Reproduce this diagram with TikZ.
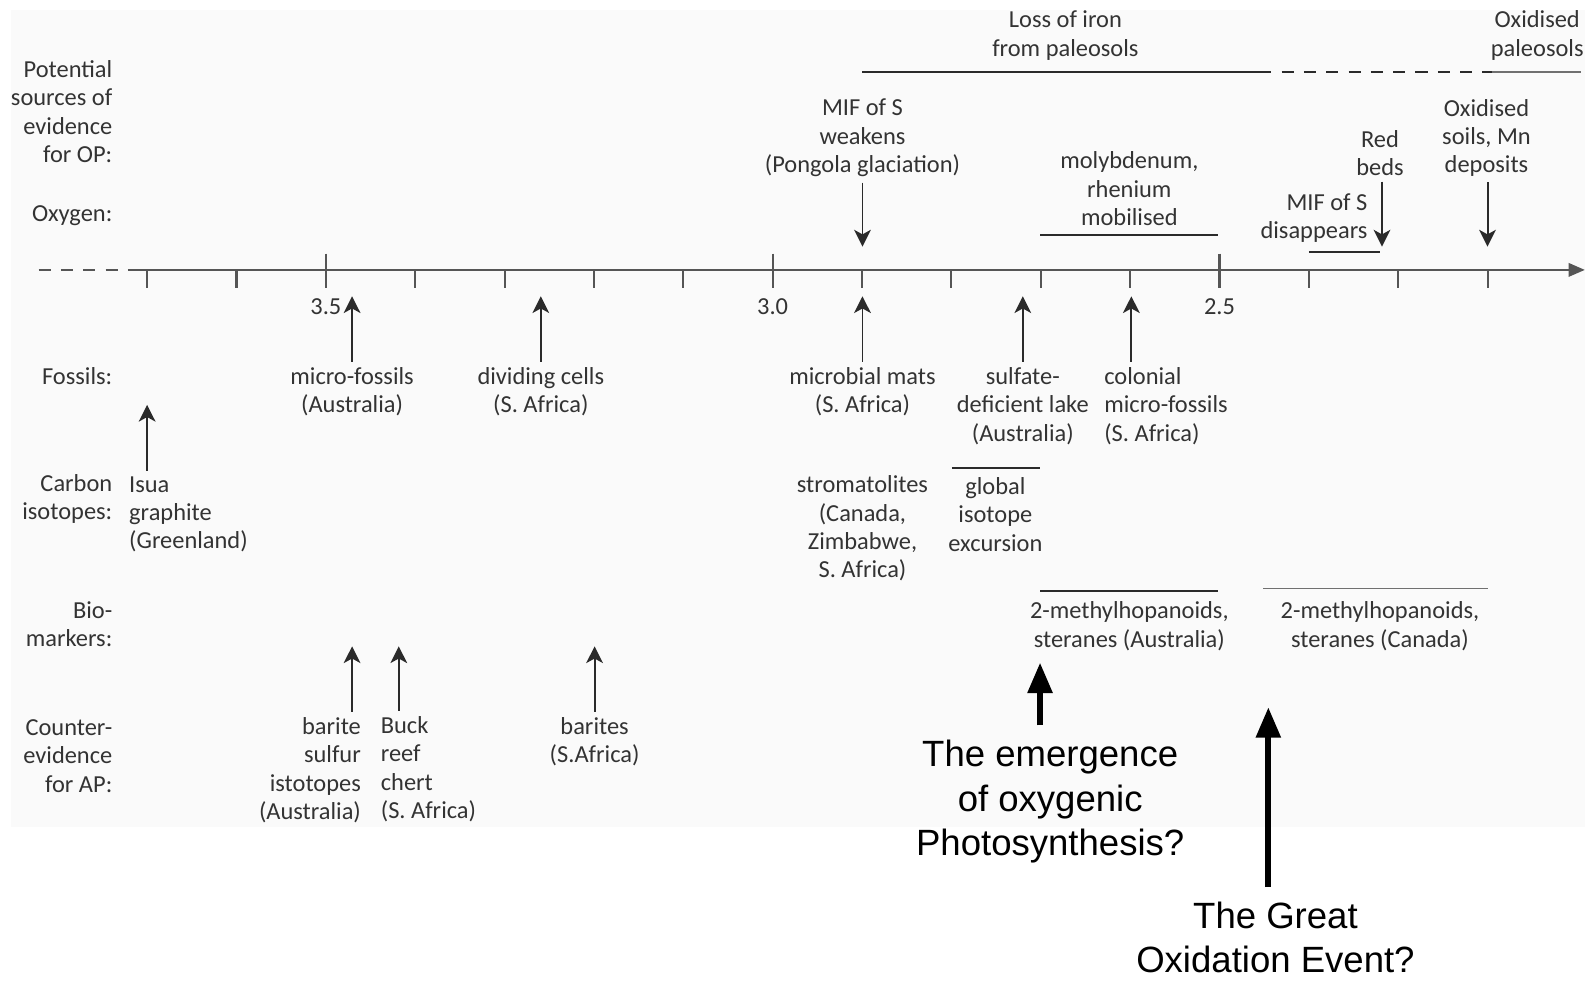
\documentclass[tikz,border=0pt]{standalone}
\usepackage{fontspec}
\setmainfont{Carlito}
\newfontfamily\arialfont{Liberation Sans}
\usetikzlibrary{arrows.meta, positioning, calc}
\definecolor{bgGray}{HTML}{FAFAFA}
\definecolor{txtGray}{HTML}{333333}
\definecolor{lnGray}{HTML}{2A2A2A}
\definecolor{axGray}{HTML}{555555}
\definecolor{lnLight}{HTML}{707070}

\begin{document}
\begin{tikzpicture}[x=0.02cm, y=-0.02cm,
      >={Stealth[length=0.33cm, width=0.33cm, inset=0.09cm]},
      lbl/.style={font=\fontsize{13.7}{15.9}\selectfont, text=txtGray, align=center, inner sep=0pt},
      hdr/.style={lbl, align=right, anchor=east},
      lleft/.style={lbl, align=left, anchor=west},
      lright/.style={lbl, align=right, anchor=east},
      arr/.style={->, lnGray, line width=1.1pt},
      bar/.style={lnGray, line width=1.1pt},
      tick/.style={axGray, line width=1.2pt},
      bigtxt/.style={font=\arialfont\fontsize{20.5}{25}\selectfont, align=center, inner sep=0pt},
      bigarr/.style={-{Triangle[length=0.6cm, width=0.47cm]}, line width=3.4pt}]
  \useasboundingbox (0,0) rectangle (1568,966);
  \fill[bgGray] (11,10) rectangle (1562,815);
  % time axis
  \coordinate (axL) at (38,266);
  \coordinate (ax0) at (130,266);
  \coordinate (axR) at (1562,266);
  \draw[axGray, line width=1.5pt, dash pattern=on 0.24cm off 0.2cm] (axL) -- (ax0);
  \draw[axGray, line width=1.5pt, -{Triangle[length=0.32cm, width=0.26cm]}] (ax0) -- (axR);
  \foreach \k in {0,...,15} \draw[tick] (145+88.07*\k, 266) -- ++(0,18);
  \foreach \k/\v in {2/3.5, 7/3.0, 12/2.5} {
    \draw[tick] (145+88.07*\k, 250) -- ++(0,16);
    \node[lbl] (age\k) at (145+88.07*\k, 302) {\v};
  }
  % row headings
  \node[hdr] (hOP)   at (111,110) {Potential\\sources of\\evidence\\for OP:};
  \node[hdr] (hOx)   at (111,213) {Oxygen:};
  \node[hdr] (hFos)  at (111,371) {Fossils:};
  \node[hdr] (hCarb) at (111,492) {Carbon\\isotopes:};
  \node[hdr] (hBio)  at (111,615) {Bio-\\markers:};
  \node[hdr] (hAP)   at (111,745) {Counter-\\evidence\\for AP:};
  % paleosols
  \node[lbl] (iron)  at (1050,35) {Loss of iron\\from paleosols};
  \node[lbl] (oxpal) at (1515,35) {Oxidised\\paleosols};
  \coordinate (ironA) at (850,71);
  \coordinate (ironB) at (1253,71);
  \coordinate (ironC) at (1263,71);
  \coordinate (ironD) at (1470,71);
  \coordinate (ironE) at (1558,71);
  \draw[bar] (ironA) -- (ironB);
  \draw[bar, dash pattern=on 0.24cm off 0.2cm] (ironC) -- (ironD);
  \draw[bar, lnLight] (ironD) -- (ironE);
  % oxygen
  \node[lbl] (mifW)   at (850,136) {MIF of S\\weakens\\(Pongola glaciation)};
  \node[lbl] (redB)   at (1360,151) {Red\\beds};
  \node[lbl] (oxSoil) at (1465,136) {Oxidised\\soils, Mn\\deposits};
  \node[lbl] (moly)   at (1113,186) {molybdenum,\\rhenium\\mobilised};
  \node[lright] (mifD) at (1348,215) {MIF of S\\disappears};
  \foreach \n/\x in {mifW/850, redB/1362, oxSoil/1466} {
    \coordinate (t\n) at (\x,243);
    \draw[arr] ([yshift=-3pt]\n.south -| t\n) -- (t\n);
  }
  % fossils
  \node[lbl] (mfos)  at (347,386) {micro-fossils\\(Australia)};
  \node[lbl] (divc)  at (533,386) {dividing cells\\(S. Africa)};
  \node[lbl] (mats)  at (850,386) {microbial mats\\(S. Africa)};
  \node[lbl] (sulf)  at (1008,400) {sulfate-\\deficient lake\\(Australia)};
  \node[lleft] (colon) at (1088,400) {colonial\\micro-fossils\\(S. Africa)};
  \foreach \n/\x in {mfos/347, divc/533, mats/850, sulf/1008, colon/1115} {
    \coordinate (t\n) at (\x,292);
    \draw[arr] ([yshift=3pt]\n.north -| t\n) -- (t\n);
  }
  % carbon isotopes
  \node[lleft] (isua) at (127,507) {Isua\\graphite\\(Greenland)};
  \coordinate (tisua) at (145,399);
  \draw[arr] ([yshift=3pt]isua.north -| tisua) -- (tisua);
  \node[lbl] (strom) at (850,521) {stromatolites\\(Canada,\\Zimbabwe,\\S. Africa)};
  \node[lbl] (glob)  at (981,507) {global\\isotope\\excursion};
  % biomarkers
  \node[lbl] (meth1) at (1113,617) {2-methylhopanoids,\\steranes (Australia)};
  \node[lbl] (meth2) at (1360,617) {2-methylhopanoids,\\steranes (Canada)};
  \foreach \a/\b/\y in {1025/1200/232, 1290/1360/248, 938/1025/461, 1025/1200/582}
    \draw[bar] (\a,\y) -- (\b,\y);
  \draw[bar, lnLight] (1245,580) -- (1466,580);
  % counter-evidence
  \node[lright] (barite) at (356,759) {barite\\sulfur\\istotopes\\(Australia)};
  \node[lleft] (buck)    at (375,758) {Buck\\reef\\chert\\(S. Africa)};
  \node[lbl] (barites)   at (586,731) {barites\\(S.Africa)};
  \foreach \n/\x in {barite/347, buck/393, barites/586} {
    \coordinate (t\n) at (\x,637);
    \draw[arr] ([yshift=3pt]\n.north -| t\n) -- (t\n);
  }
  % questions
  \node[bigtxt] (emerg) at (1035,790) {The emergence\\of oxygenic\\Photosynthesis?};
  \node[bigtxt] (goe)   at (1257,924) {The Great\\Oxidation Event?};
  \coordinate (temerg) at (1025,653);
  \coordinate (tgoe) at (1250,697);
  \draw[bigarr] ([yshift=8pt]emerg.north -| temerg) -- (temerg);
  \draw[bigarr] ([yshift=8pt]goe.north -| tgoe) -- (tgoe);
\end{tikzpicture}
\end{document}
